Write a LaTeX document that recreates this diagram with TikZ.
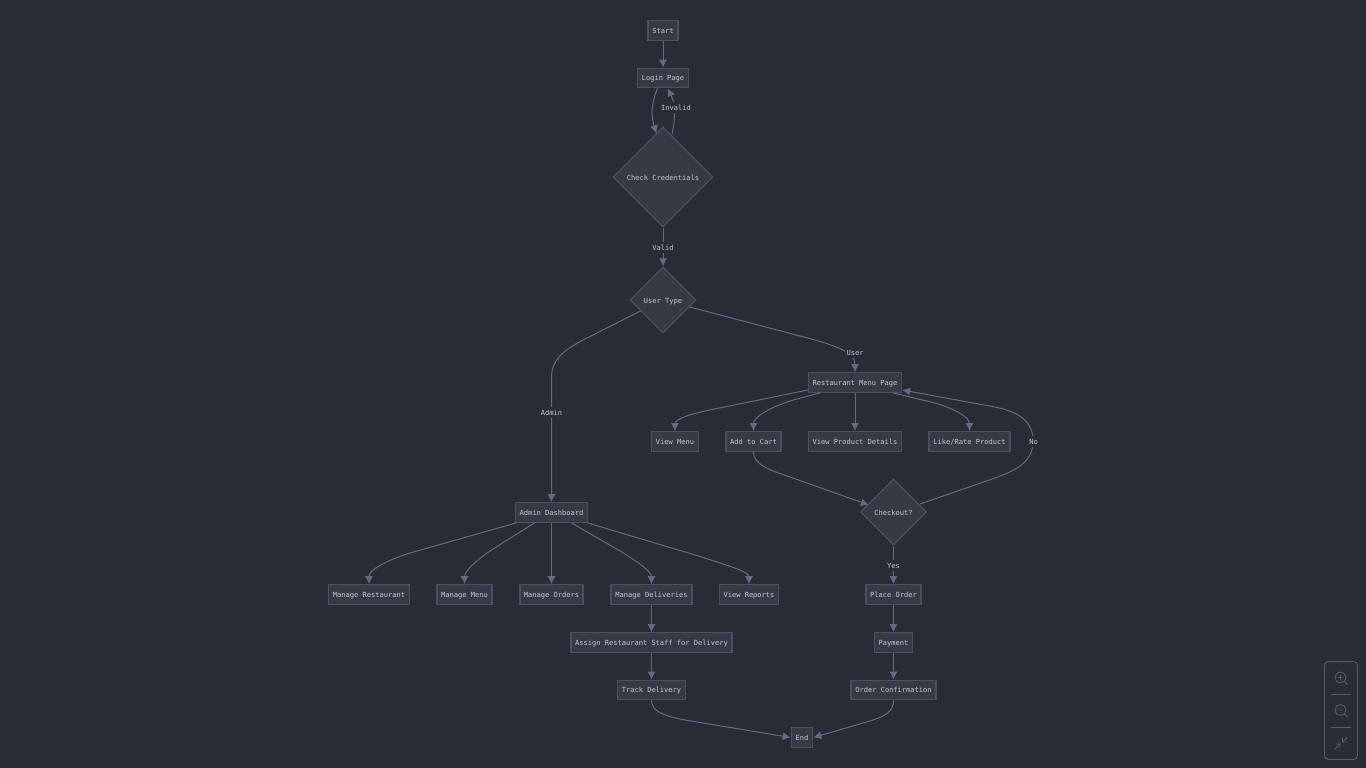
\documentclass[tikz,border=0pt]{standalone}
\usepackage{fontspec}
\setmonofont{DejaVu Sans Mono}
\usetikzlibrary{shapes.geometric,arrows.meta,calc}
\definecolor{bgc}{HTML}{282C34}
\definecolor{fillc}{HTML}{363A45}
\definecolor{edgec}{HTML}{4B5060}
\definecolor{linec}{HTML}{646B80}
\definecolor{textc}{HTML}{C5C9D2}
\definecolor{ctlc}{HTML}{555B6B}
\tikzset{
  x=1pt,y=-1pt,
  txt/.style={font=\ttfamily\fontsize{7.05}{9}\selectfont,text=textc,text height=6.4pt,text depth=0.8pt},
  box/.style={txt,draw=edgec,fill=fillc,line width=1.2pt,inner sep=0pt,minimum height=19.5pt,anchor=center},
  dia/.style={txt,text height=8pt,shape=diamond,aspect=1,draw=edgec,fill=fillc,line width=1.2pt,inner sep=0pt,minimum width=#1,minimum height=#1},
  con/.style={draw=linec,line width=1pt,-{Latex[length=8pt,width=8pt]}},
  elabel/.style={txt,fill=bgc,inner sep=1.5pt},
  ctl/.style={draw=ctlc,line width=.9pt,line cap=round}
}
\begin{document}
\begin{tikzpicture}
\fill[bgc] (0,0) rectangle (1366,768);
\useasboundingbox (0,0) rectangle (1366,768);
% nodes
\node[box,minimum width=30pt] (start) at (663,30.5) {Start};
\node[box,minimum width=51.5pt] (login) at (663,78) {Login Page};
\node[dia=100pt] (check) at (663,177) {Check Credentials};
\node[dia=66pt] (utype) at (663,300) {User Type};
\node[box,minimum width=93pt] (rest) at (855,382.5) {Restaurant Menu Page};
\node[box,minimum width=46.5pt] (vmenu) at (675,441.5) {View Menu};
\node[box,minimum width=55pt] (cart) at (753.5,441.5) {Add to Cart};
\node[box,minimum width=93pt] (details) at (855,441.5) {View Product Details};
\node[box,minimum width=81pt] (like) at (969.5,441.5) {Like/Rate Product};
\node[dia=66pt] (checkout) at (893.5,512) {Checkout?};
\node[box,minimum width=71.5pt] (admin) at (551.5,512.5) {Admin Dashboard};
\node[box,minimum width=80.5pt] (mrest) at (369,594.5) {Manage Restaurant};
\node[box,minimum width=55pt] (mmenu) at (464.5,594.5) {Manage Menu};
\node[box,minimum width=63pt] (morders) at (551.5,594.5) {Manage Orders};
\node[box,minimum width=81pt] (mdeliv) at (651.5,594.5) {Manage Deliveries};
\node[box,minimum width=58.5pt] (vrep) at (749,594.5) {View Reports};
\node[box,minimum width=161pt] (assign) at (651.5,642.5) {Assign Restaurant Staff for Delivery};
\node[box,minimum width=68pt] (track) at (651.5,690) {Track Delivery};
\node[box,minimum width=55pt] (place) at (893.5,594.5) {Place Order};
\node[box,minimum width=38pt] (pay) at (893.5,642.5) {Payment};
\node[box,minimum width=85pt] (confirm) at (893.5,690) {Order Confirmation};
\node[box,minimum width=21.5pt] (endn) at (802,737.5) {End};
% connectors
\draw[con] (start.south) -- (login.north);
\draw[con] ($(login.south)+(-5.5,0)$) .. controls (651,104) and (651,116) .. ($(check.north)+(-6.5,7)$);
\draw[con] ($(check.north)+(9,8)$) .. controls (675,120) and (676,106) .. ($(login.south)+(5,0)$);
\draw[con] (check.south) -- (utype.north);
\draw[con] ($(utype.west)+(11,11)$) -- (585,339) .. controls (562,351) and (551.5,360) .. (551.5,378) -- (admin.north);
\draw[con] ($(utype.east)+(-7,7)$) -- (800,336) .. controls (835,345) and (855,352) .. (rest.north);
\draw[con] ($(rest.west)+(0,7.5)$) -- (712,409.5) .. controls (690,414) and (675,419) .. (vmenu.north);
\draw[con] ($(rest.south)+(-34.5,0)$) -- (795,399.5) .. controls (770,407) and (753.5,417) .. (cart.north);
\draw[con] (rest.south) -- (details.north);
\draw[con] ($(rest.south)+(38,0)$) -- (935,403) .. controls (955,409) and (969.5,417) .. (like.north);
\draw[con] (cart.south) .. controls (753.5,465) and (770,470) .. (790,477) -- ($(checkout.west)+(9,-7)$);
\draw[con] ($(checkout.east)+(-7,-8)$) -- (995,478) .. controls (1020,469) and (1033,460) .. (1033,441) .. controls (1033,422) and (1020,412) .. (995,407) -- ($(rest.east)+(0,7.5)$);
\draw[con] ($(admin.south)+(-35,0)$) -- (410,553) .. controls (385,561) and (369,570) .. (mrest.north);
\draw[con] ($(admin.south)+(-17,0)$) -- (490,551) .. controls (475,561) and (464.5,572) .. (mmenu.north);
\draw[con] (admin.south) -- (morders.north);
\draw[con] ($(admin.south)+(20,0)$) -- (620,551) .. controls (640,563) and (651.5,572) .. (mdeliv.north);
\draw[con] ($(admin.south)+(36,0)$) -- (700,556.5) .. controls (730,566) and (749,572) .. (vrep.north);
\draw[con] (mdeliv.south) -- (assign.north);
\draw[con] (assign.south) -- (track.north);
\draw[con] (checkout.south) -- (place.north);
\draw[con] (place.south) -- (pay.north);
\draw[con] (pay.south) -- (confirm.north);
\draw[con] (track.south) .. controls (651.5,712) and (665,716) .. (685,720) -- (endn.west);
\draw[con] (confirm.south) .. controls (893.5,712) and (885,716) .. (870,721) -- (endn.east);
% edge labels
\node[elabel] (linvalid) at (676,107.5) {Invalid};
\node[elabel] (lvalid) at (663,247.5) {Valid};
\node[elabel] (ladmin) at (551.5,412.5) {Admin};
\node[elabel] (luser) at (855,352.5) {User};
\node[elabel] (lno) at (1033.5,441.5) {No};
\node[elabel] (lyes) at (893.5,565.5) {Yes};
% zoom controls
\draw[ctl,rounded corners=4pt] (1324.5,661.5) rectangle (1357.5,759.5);
\draw[ctl] (1331,694.5) -- (1351,694.5) (1331,727) -- (1351,727);
\draw[ctl] (1340.5,677.5) circle[radius=5.5] (1344.5,681.5) -- (1347.5,684.5) (1338,677.5) -- (1343,677.5) (1340.5,675) -- (1340.5,680);
\draw[ctl] (1340.5,710) circle[radius=5.5] (1344.5,714) -- (1347.5,717) (1338,710) -- (1343,710);
\draw[ctl] (1335,749) -- (1340,744) (1336,744) -- (1340,744) -- (1340,748);
\draw[ctl] (1347,737.5) -- (1342.5,742) (1342.5,738) -- (1342.5,742) -- (1346.5,742);
\end{tikzpicture}
\end{document}
